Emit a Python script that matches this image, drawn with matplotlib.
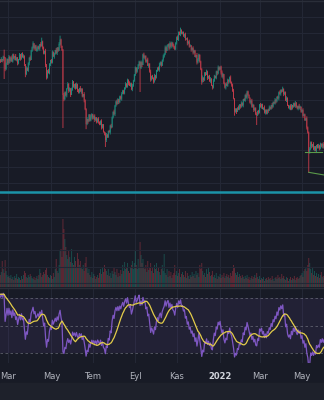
import numpy as np
import pandas as pd
import matplotlib
matplotlib.use("Agg")
import matplotlib.pyplot as plt
from matplotlib.patches import Rectangle

# daily closes before the visible window (only used to seed the RSI)
pre_close = [14.10, 14.32, 14.20, 14.45, 14.30, 14.58, 14.48, 14.70, 14.55, 14.85,
             14.78, 15.00, 14.90, 15.18, 15.10, 15.35, 15.25, 15.50, 15.42, 15.65,
             15.58, 15.82, 15.75, 15.98, 15.90, 16.12, 16.05, 16.30, 16.22, 16.40]

# daily closes from 17 Feb 2021
close = [16.28, 16.45, 16.38, 16.60, 16.52, 15.85, 16.12, 16.45, 16.22, 16.58,
         16.35, 16.55, 16.30, 16.72, 16.50, 16.64, 16.38, 16.52, 16.20, 16.45,
         16.70, 16.48, 16.80, 16.55, 16.62, 16.15, 15.55, 15.90, 15.75, 16.20,
         16.55, 16.40, 16.95, 17.15, 17.40, 17.10, 17.25, 16.95, 17.05, 17.20,
         17.08, 17.35, 17.22, 17.50, 17.15, 16.80, 16.95, 16.10, 15.35, 15.75,
         15.60, 16.15, 16.40, 16.25, 16.85, 16.60, 16.78, 17.00, 16.82, 17.12,
         16.95, 17.35, 17.62, 17.25, 17.00, 14.30, 14.05, 14.45, 14.28, 14.70,
         14.95, 14.55, 14.70, 14.30, 14.62, 15.08, 14.80, 14.95, 14.68, 14.92,
         14.60, 14.45, 14.72, 14.50, 14.65, 14.22, 14.35, 13.98, 13.45, 12.55,
         12.85, 12.70, 13.10, 12.78, 13.00, 13.15, 12.88, 13.02, 12.80, 12.92,
         12.65, 12.85, 12.70, 12.55, 12.72, 12.35, 12.50, 12.10, 12.00, 11.60,
         11.90, 11.78, 12.15, 12.05, 12.45, 12.35, 12.95, 13.30, 13.15, 13.65,
         13.90, 13.75, 14.05, 13.88, 14.20, 14.08, 14.35, 14.55, 14.40, 14.75,
         14.95, 14.80, 15.22, 15.00, 14.85, 14.98, 14.65, 14.85, 15.15, 15.50,
         15.95, 15.70, 15.85, 16.10, 16.30, 15.92, 16.25, 16.10, 16.72, 16.55,
         16.62, 16.30, 16.42, 16.05, 16.15, 15.70, 15.22, 15.45, 15.30, 15.10,
         15.45, 15.30, 15.75, 15.95, 15.82, 16.12, 16.25, 16.05, 16.42, 16.60,
         16.75, 17.15, 16.95, 17.25, 17.35, 17.10, 17.40, 17.22, 17.45, 17.25,
         17.20, 17.05, 17.45, 17.75, 17.60, 18.05, 17.95, 18.22, 18.00, 18.05,
         17.85, 17.92, 17.62, 17.70, 17.40, 17.50, 17.20, 17.28, 17.02, 17.10,
         16.85, 16.95, 16.58, 16.70, 16.25, 16.45, 16.72, 16.30, 15.85, 15.10,
         15.35, 15.20, 15.62, 15.50, 15.70, 15.32, 15.45, 15.15, 15.25, 14.85,
         14.75, 15.15, 15.45, 15.30, 15.70, 15.60, 15.95, 15.82, 16.00, 15.65,
         15.40, 15.55, 15.00, 14.75, 14.95, 14.85, 15.22, 15.10, 15.35, 15.05,
         14.92, 14.55, 14.10, 13.30, 13.45, 13.28, 13.55, 13.45, 13.70, 13.60,
         13.80, 13.68, 14.05, 13.95, 14.28, 14.15, 14.50, 14.32, 14.10, 13.85,
         13.95, 13.60, 13.72, 13.40, 13.50, 13.15, 13.10, 13.35, 13.25, 13.70,
         13.60, 13.72, 13.45, 13.55, 13.25, 13.38, 13.20, 13.42, 13.35, 13.55,
         13.48, 13.70, 13.60, 13.85, 13.78, 14.00, 13.92, 14.20, 14.10, 14.45,
         14.38, 14.58, 14.50, 14.68, 14.35, 14.45, 14.00, 14.10, 13.70, 13.55,
         13.62, 13.45, 13.70, 13.55, 13.78, 13.65, 13.82, 13.60, 13.50, 13.65,
         13.52, 13.60, 13.30, 13.38, 13.05, 13.12, 12.80, 12.90, 12.35, 12.05,
         10.90, 11.05, 11.45, 11.22, 11.35, 11.05, 11.18, 10.98, 11.30, 11.15,
         11.25, 11.10, 11.38, 11.22, 11.35, 11.15, 11.25]

# wick length above / below the body, in 0.06 steps
hi_ext = [1, 2, 0, 1, 7, 1, 2, 1, 0, 2,  1, 0, 2, 1, 1, 0, 2, 1, 1, 0,
          2, 1, 0, 1, 2, 1, 0, 2, 1, 1,  0, 2, 1, 1, 2, 0, 1, 1, 2, 1,
          1, 0, 2, 4, 1, 1, 0, 2, 1, 1,  2, 1, 0, 1, 2, 1, 1, 0, 2, 1,
          1, 2, 4, 1, 0, 1, 2, 1, 1, 0,  2, 1, 1, 0, 2, 2, 1, 0, 1, 2,
          1, 1, 0, 2, 1, 1, 0, 2, 1, 1,  2, 0, 1, 1, 2, 1, 0, 1, 2, 1,
          1, 1, 2, 0, 1, 2, 1, 1, 0, 1,  2, 1, 0, 1, 1, 2, 1, 0, 2, 1,
          1, 2, 1, 0, 1, 1, 2, 1, 1, 0,  2, 1, 1, 0, 2, 1, 1, 2, 1, 1,
          1, 0, 2, 1, 1, 0, 2, 1, 1, 2,  1, 1, 0, 2, 1, 1, 2, 0, 1, 1,
          2, 1, 1, 0, 1, 2, 1, 1, 0, 2,  1, 2, 1, 1, 0, 1, 2, 1, 1, 0,
          2, 1, 0, 1, 2, 1, 1, 2, 0, 1,  1, 1, 2, 0, 1, 1, 2, 1, 0, 1,
          2, 1, 1, 0, 2, 1, 1, 0, 1, 1,  2, 0, 1, 1, 2, 1, 0, 1, 2, 1,
          1, 2, 1, 0, 1, 1, 2, 1, 0, 1,  2, 1, 0, 1, 1, 2, 1, 0, 1, 2,
          1, 1, 2, 0, 1, 1, 0, 2, 1, 1,  2, 1, 0, 1, 1, 2, 1, 1, 0, 1,
          1, 2, 1, 0, 1, 1, 2, 0, 1, 1,  2, 1, 1, 0, 2, 1, 1, 0, 1, 2,
          1, 0, 2, 1, 1, 2, 1, 0, 1, 1,  2, 1, 1, 2, 0, 1, 1, 2, 1, 0,
          1, 2, 1, 0, 1, 1, 2, 1, 1, 0,  2, 1, 0, 1, 2, 1, 1, 0, 2, 1,
          1, 2, 1, 1, 0, 2, 1, 1, 0, 1,  2, 1, 1, 0, 1, 2, 1]
lo_ext = [1, 0, 2, 1, 21, 2, 1, 0, 2, 1,  2, 1, 0, 1, 1, 2, 0, 1, 2, 1,
          1, 2, 1, 0, 1, 2, 3, 1, 0, 1,  2, 1, 0, 1, 1, 2, 1, 0, 1, 2,
          1, 2, 1, 0, 2, 1, 1, 2, 2, 1,  0, 1, 2, 1, 1, 0, 2, 1, 1, 2,
          1, 0, 1, 2, 1, 33, 2, 1, 1, 2,  1, 2, 1, 2, 0, 1, 1, 2, 1, 0,
          2, 1, 1, 0, 2, 1, 1, 2, 1, 5,  1, 2, 0, 1, 1, 2, 1, 0, 2, 1,
          1, 0, 2, 1, 1, 2, 1, 1, 2, 7,  2, 1, 1, 0, 2, 1, 0, 1, 1, 2,
          1, 1, 0, 2, 1, 1, 2, 0, 1, 1,  2, 1, 1, 2, 0, 1, 1, 2, 1, 1,
          1, 2, 1, 0, 1, 24, 1, 2, 0, 1,  2, 1, 1, 0, 2, 1, 2, 1, 1, 2,
          1, 2, 0, 1, 1, 2, 1, 1, 0, 2,  1, 1, 2, 0, 1, 2, 1, 1, 2, 1,
          2, 1, 1, 2, 0, 1, 1, 2, 1, 1,  1, 2, 1, 0, 2, 1, 1, 0, 2, 1,
          2, 1, 0, 1, 2, 1, 2, 1, 1, 3,  1, 2, 1, 1, 0, 2, 1, 1, 2, 0,
          2, 1, 1, 0, 1, 2, 1, 1, 0, 2,  1, 2, 1, 1, 2, 0, 1, 2, 1, 1,
          2, 1, 1, 4, 1, 2, 0, 1, 1, 2,  1, 1, 2, 0, 1, 1, 2, 1, 0, 1,
          2, 1, 1, 2, 1, 1, 10, 1, 2, 1,  1, 2, 0, 1, 1, 2, 1, 1, 2, 0,
          1, 1, 2, 1, 0, 1, 2, 1, 1, 2,  1, 2, 1, 0, 2, 1, 1, 2, 1, 1,
          2, 1, 1, 2, 0, 1, 2, 1, 1, 2,  1, 2, 1, 1, 2, 0, 1, 1, 2, 1,
          21, 2, 1, 2, 1, 1, 2, 1, 2, 1,  1, 2, 1, 1, 2, 1, 1]

# volume, 100k lots
volume = [12, 15, 26, 18, 14, 27, 16, 12, 10, 11,  9, 12, 8, 10, 7, 11, 9, 13, 8, 10,
          9, 7, 11, 8, 12, 16, 14, 10, 9, 12,  10, 13, 11, 9, 8, 10, 7, 9, 11, 8,
          12, 18, 14, 10, 12, 15, 13, 17, 20, 12,  10, 9, 12, 11, 8, 14, 10, 18, 28, 16,
          14, 22, 36, 38, 30, 68, 58, 48, 40, 32,  28, 36, 30, 25, 38, 24, 22, 30, 26, 20,
          34, 28, 22, 26, 20, 18, 22, 16, 24, 30,  20, 14, 18, 12, 10, 15, 9, 13, 11, 8,
          10, 12, 9, 14, 18, 13, 20, 15, 22, 18,  16, 12, 18, 11, 14, 9, 16, 13, 20, 15,
          12, 18, 10, 14, 11, 17, 13, 22, 16, 25,  18, 20, 24, 16, 14, 19, 22, 26, 18, 24,
          37, 22, 18, 28, 20, 45, 32, 24, 28, 20,  18, 22, 15, 26, 17, 20, 24, 16, 19, 14,
          22, 18, 24, 16, 20, 15, 12, 18, 22, 16,  33, 14, 12, 18, 10, 16, 11, 15, 9, 12,
          14, 22, 12, 16, 11, 14, 18, 10, 13, 15,  12, 10, 16, 9, 14, 11, 8, 12, 10, 15,
          11, 13, 9, 16, 12, 14, 10, 22, 18, 24,  16, 12, 14, 10, 18, 13, 20, 15, 11, 12,
          16, 10, 12, 9, 14, 8, 11, 10, 13, 9,  12, 10, 14, 9, 11, 13, 10, 12, 9, 14,
          11, 16, 22, 20, 14, 12, 15, 10, 13, 11,  9, 12, 10, 8, 11, 9, 12, 8, 10, 7,
          9, 11, 8, 10, 12, 9, 14, 10, 8, 11,  7, 9, 8, 10, 6, 8, 9, 7, 10, 8,
          9, 7, 11, 8, 6, 9, 10, 8, 12, 9,  10, 8, 13, 9, 11, 8, 7, 10, 9, 6,
          8, 10, 7, 9, 8, 11, 7, 9, 10, 8,  9, 11, 12, 14, 10, 16, 18, 20, 16, 22,
          29, 24, 18, 14, 20, 12, 16, 11, 14, 10,  13, 9, 12, 15, 10, 11, 9]

start_date = "2021-02-17"
month_tr = {1: "Oca", 3: "Mar", 5: "May", 7: "Tem", 9: "Eyl", 11: "Kas"}
rsi_len = 14
ma_len = 14
level_price = 8.48
flat_x, flat_y = [316, 334], [10.90, 10.90]
trend_x, trend_y = [320, 336], [9.66, 9.50]

bg = "#181b26"
up_col, dn_col = "#1d9282", "#cc3d4c"
grid_col = "#232735"

c = np.array(close)
o = np.concatenate([[pre_close[-1]], c[:-1]])
hi = np.maximum(o, c) + 0.06 * np.array(hi_ext)
lo = np.minimum(o, c) - 0.06 * np.array(lo_ext)
n = len(c)
x = np.arange(n)
rising = c >= o
cols = np.where(rising, up_col, dn_col)

# RSI (Wilder smoothing) and its moving average
allc = np.array(pre_close + close)
d = np.diff(allc)
gain = np.clip(d, 0, None)
loss = np.clip(-d, 0, None)
ag = np.full(len(d), np.nan)
al = np.full(len(d), np.nan)
ag[rsi_len - 1] = gain[:rsi_len].mean()
al[rsi_len - 1] = loss[:rsi_len].mean()
for i in range(rsi_len, len(d)):
    ag[i] = (ag[i - 1] * (rsi_len - 1) + gain[i]) / rsi_len
    al[i] = (al[i - 1] * (rsi_len - 1) + loss[i]) / rsi_len
rsi = np.concatenate([[np.nan], 100 - 100 / (1 + ag / al)])
rsi_ma = pd.Series(rsi).rolling(ma_len).mean().values
off = len(pre_close)
rsi_v, ma_v = rsi[off:], rsi_ma[off:]

dates = pd.bdate_range(start_date, periods=n)
ticks, labels = [], []
for i in range(1, n):
    if dates[i].month != dates[i - 1].month and dates[i].month % 2 == 1:
        ticks.append(i)
        labels.append(str(dates[i].year) if dates[i].month == 1 else month_tr[dates[i].month])

W, H = 324, 400
fig = plt.figure(figsize=(W / 100, H / 100), dpi=100)
fig.patch.set_facecolor(bg)

def pane(top, bottom):
    return [0, 1 - bottom / H, 1, (bottom - top) / H]

xlim = (-0.3, 335.8)

# volume pane sits behind the price pane
axv = fig.add_axes(pane(0, 287))
axv.set_facecolor(bg)
axv.bar(x, volume, width=0.9, color=cols, alpha=0.45, linewidth=0, snap=False)
axv.set_ylim(0, 287)
for t in ticks:
    axv.axvline(t, color=grid_col, lw=0.8, zorder=0)

ax = fig.add_axes(pane(0, 287), sharex=axv)
ax.patch.set_alpha(0)
ax.set_ylim(20 - 0.06 * 287, 20)
ax.set_yticks(np.arange(3, 20))
ax.yaxis.grid(True, color=grid_col, lw=0.8)
ax.set_axisbelow(True)
ax.vlines(x, lo, hi, colors=cols, linewidth=0.6, snap=False)
ax.bar(x, np.abs(c - o) + 0.01, bottom=np.minimum(o, c), width=0.7,
       color=cols, linewidth=0, snap=False)
ax.axhline(level_price, color="#1b93a8", lw=1.8)
ax.plot(flat_x, flat_y, color="#5a9a4a", lw=0.8)
ax.plot(trend_x, trend_y, color="#5a9a4a", lw=0.8)

axr = fig.add_axes(pane(288, 363), sharex=axv)
axr.set_facecolor(bg)
axr.set_ylim(22.86, 77.14)
axr.axhspan(30, 70, color="#7e57c2", alpha=0.1, lw=0)
for lvl in (70, 50, 30):
    axr.axhline(lvl, color="#787b86", lw=0.6, alpha=0.7, dashes=(3, 3))
for t in ticks:
    axr.axvline(t, color=grid_col, lw=0.8, zorder=0)
axr.plot(x, rsi_v, color="#7e57c2", lw=0.9)
axr.plot(x, ma_v, color="#e3cc4a", lw=0.9)

for a in (axv, ax, axr):
    a.set_xlim(*xlim)
    for s in a.spines.values():
        s.set_visible(False)
    a.tick_params(left=False, labelleft=False, bottom=False, labelbottom=False)

axr.set_xticks(ticks)
axr.set_xticklabels(labels)
axr.tick_params(bottom=False, labelbottom=True, length=0, pad=6.5, labelsize=6,
                labelcolor="#b2b5be")
for lab in axr.get_xticklabels():
    if lab.get_text().isdigit():
        lab.set_color("#d1d4dc")
        lab.set_fontweight("bold")

fig.add_artist(plt.Line2D([0, 1], [1 - 287.5 / H] * 2, color="#2a2e39", lw=1))
fig.add_artist(plt.Line2D([0, 1], [1 - 0.5 / H] * 2, color="#2a2e39", lw=1))
fig.patches.append(Rectangle((0, 0), 1, 17 / H, transform=fig.transFigure,
                             color="#1e212b", zorder=0))

fig.savefig("out.png", dpi=100, facecolor=bg)
